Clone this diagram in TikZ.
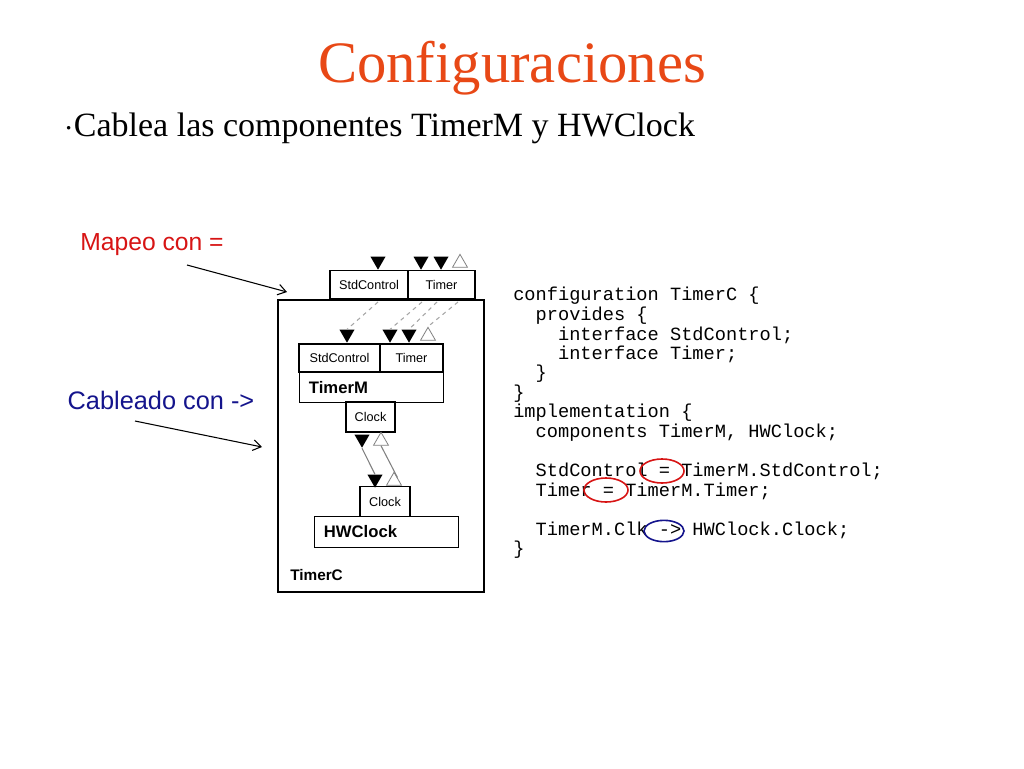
\documentclass[tikz,border=0pt]{standalone}
\usepackage{fontspec}
\setmainfont{Liberation Serif}
\setsansfont{Liberation Sans}
\setmonofont{Liberation Mono}
\usetikzlibrary{shapes.geometric,arrows.meta,calc}
\definecolor{titlered}{RGB}{232,72,22}
\definecolor{mapred}{RGB}{215,20,20}
\definecolor{cabblue}{RGB}{20,20,140}
\tikzset{
  ifbox/.style={draw,line width=0.9pt,inner sep=0pt,font=\sffamily\fontsize{9.5}{10}\selectfont},
  compbox/.style={draw,line width=0.9pt,inner sep=0pt,anchor=north west,font=\sffamily\bfseries\fontsize{12.5}{12.5}\selectfont},
  filltri/.style={regular polygon,regular polygon sides=3,shape border rotate=180,fill=black,inner sep=0pt,minimum size=13pt},
  opentri/.style={regular polygon,regular polygon sides=3,draw=gray,fill=white,inner sep=0pt,minimum size=13pt,line width=0.6pt},
  wire/.style={gray!70,dashed,line width=0.8pt},
  codeline/.style={anchor=west,inner sep=0pt,font=\ttfamily\fontsize{14}{14}\selectfont},
  ringmark/.style={ellipse,line width=1.2pt,minimum width=33pt,minimum height=18pt,inner sep=0pt}
}
\begin{document}
\begin{tikzpicture}[x=0.75pt,y=0.75pt,yscale=-1,xscale=1]
\useasboundingbox (0,0) rectangle (1024,768);
% title
\node (title) at (512,68) [text=titlered,font=\fontsize{44}{44}\selectfont] {Configuraciones};
\node (bullet) at (60,128) [anchor=west,font=\fontsize{25.5}{25.5}\selectfont] {$\cdot$Cablea las componentes TimerM y HWClock};
% outer configuration
\draw[line width=0.9pt] (278,300) rectangle (484,592);
\node (timerc) at (290,575) [anchor=west,inner sep=0pt,font=\sffamily\bfseries\fontsize{11.5}{11.5}\selectfont] {TimerC};
\node (topstd) at (369,284.5) [ifbox,minimum width=58.5pt,minimum height=21pt] {StdControl};
\node (toptim) at (441.5,284.5) [ifbox,minimum width=50.25pt,minimum height=21pt] {Timer};
\node (t1) at (378,261) [filltri] {};
\node (t2) at (421,261) [filltri] {};
\node (t3) at (441,261) [filltri] {};
\node (t4) at (460,263) [opentri] {};
% TimerM
\node (mstd) at (339.5,358) [ifbox,minimum width=60.75pt,minimum height=21pt] {StdControl};
\node (mtim) at (411.5,358) [ifbox,minimum width=47.25pt,minimum height=21pt] {Timer};
\node (timerm) at (299,372) [compbox,minimum width=108pt,minimum height=22.5pt,text width=100pt,align=left] {\hspace{3pt}TimerM};
\node (mclk) at (370.5,417) [ifbox,minimum width=36.75pt,minimum height=22.5pt] {Clock};
\node (m1) at (347,334) [filltri] {};
\node (m2) at (390,334) [filltri] {};
\node (m3) at (409,334) [filltri] {};
\node (m4) at (428,336) [opentri] {};
\draw[wire] (378,302) -- (m1.north);
\draw[wire] (422,302) -- (m2.north);
\draw[wire] (437,302) -- (m3.north);
\draw[wire] (458,302) -- (m4.north);
% HWClock
\node (c1) at (362,439) [filltri] {};
\node (c2) at (381,441) [opentri] {};
\node (h1) at (375,479) [filltri] {};
\node (h2) at (394,481) [opentri] {};
\draw[gray,line width=0.8pt] (c1.south) -- (h1.north);
\draw[gray,line width=0.8pt] (c2.south) -- (h2.north east);
\node (hclk) at (385,501.5) [ifbox,minimum width=37.5pt,minimum height=22pt] {Clock};
\node (hwclock) at (314,516) [compbox,minimum width=108pt,minimum height=23pt,text width=100pt,align=left] {\hspace{3pt}HWClock};
% labels with arrows
\node (mapeo) at (152,245) [text=mapred,font=\sffamily\fontsize{18.5}{18.5}\selectfont] {Mapeo con =};
\node (cabl) at (161,400) [text=cabblue,font=\sffamily\fontsize{19}{19}\selectfont] {Cableado con ->};
\coordinate (mapend) at (287,292);
\coordinate (cabend) at (262,447);
\draw[-{Straight Barb[length=6pt,width=8pt]},line width=0.8pt] (187,265) -- (mapend);
\draw[-{Straight Barb[length=6pt,width=8pt]},line width=0.8pt] (135,421) -- (cabend);
% code
\foreach \ind/\txt [count=\i] in {0/configuration TimerC \{, 2/provides \{, 4/interface StdControl;, 4/interface Timer;, 2/\}, 0/\}, 0/implementation \{, 2/{components TimerM, HWClock;}, 0/{}, 2/StdControl = TimerM.StdControl;, 2/Timer = TimerM.Timer;, 0/{}, 2/TimerM.Clk -> HWClock.Clock;, 0/\}}
  \node[codeline] (code\i) at ({513+\ind*11.2},{296+19.5*(\i-1)}) {\txt};
\node (eq1) at (662,471) [ringmark,draw=mapred] {};
\node (eq2) at (606,490) [ringmark,draw=mapred] {};
\node (arr) at (664,531) [ringmark,draw=cabblue,minimum width=30pt,minimum height=16pt] {};
\end{tikzpicture}
\end{document}
